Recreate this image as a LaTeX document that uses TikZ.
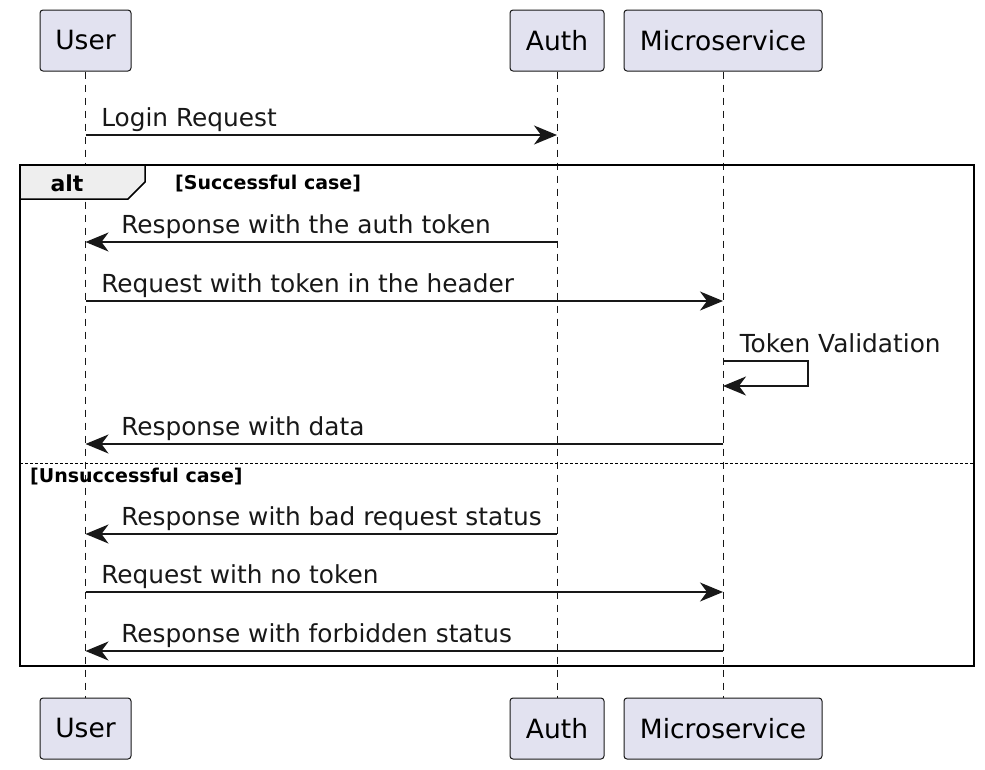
\documentclass[tikz,border=0pt]{standalone}
\usepackage{fontspec}
\setmainfont{DejaVu Sans}
\usepackage{xcolor}
\usetikzlibrary{arrows.meta, positioning, calc}
\definecolor{partfill}{HTML}{E2E2F0}
\definecolor{partline}{HTML}{181818}
\definecolor{tabfill}{HTML}{EEEEEE}

\begin{document}
\begin{tikzpicture}[x=1pt, y=-1pt,
    part/.style={draw=partline, fill=partfill, rounded corners=3pt, line width=1pt,
      minimum height=61pt, inner sep=0pt, font=\fontsize{26.5}{30}\selectfont},
    life/.style={partline, line width=1pt, dash pattern=on 7pt off 6pt},
    msg/.style={-{Stealth[length=23pt, width=19pt, inset=7pt]}, line width=1.5pt, partline},
    lbl/.style={anchor=base west, inner sep=0pt, font=\fontsize{24.8}{28}\selectfont},
    grd/.style={anchor=base west, inner sep=0pt, font=\fontsize{19}{22}\selectfont\bfseries}]
  \useasboundingbox (0,0) rectangle (985,769);
  % participants
  \node[part, minimum width=91pt] (userT) at (85.5,40.5) {User};
  \node[part, minimum width=94pt] (authT) at (557,40.5) {Auth};
  \node[part, minimum width=198pt] (msT) at (723,40.5) {Microservice};
  \node[part, minimum width=91pt] (userB) at (85.5,728.5) {User};
  \node[part, minimum width=94pt] (authB) at (557,728.5) {Auth};
  \node[part, minimum width=198pt] (msB) at (723,728.5) {Microservice};
  \foreach \p in {user,auth,ms} \draw[life] (\p T) -- (\p B);
  % message rows
  \foreach \r/\y in {1/135, 2/242, 3/301, 4/361, 5/386, 6/444, 7/534, 8/592, 9/651}
    \coordinate (r\r) at (0,\y);
  % alt frame
  \coordinate (fTL) at (20,165);
  \coordinate (fBR) at (974,666);
  \draw[fill=tabfill, line width=1.5pt] (fTL) -- (145,165) -- (145,182) -- (128,199) -- (20,199) -- cycle;
  \draw[line width=2.5pt] (fTL) rectangle (fBR);
  \node[anchor=base, inner sep=0pt, font=\fontsize{22}{24}\selectfont\bfseries] (altL) at (67,191) {alt};
  \node[grd] (g1) at (175,189) {[Successful case]};
  \draw[line width=1pt, dash pattern=on 3pt off 2pt] (20,463) coordinate (sepL) -- (974,463) coordinate (sepR);
  \node[grd] (g2) at (30,482) {[Unsuccessful case]};
  % messages
  \draw[msg] (userT |- r1) -- node[lbl, pos=0, xshift=15pt, yshift=9pt] {Login Request} (authT |- r1);
  \draw[msg] (authT |- r2) -- (userT |- r2) node[lbl, xshift=35pt, yshift=9pt] {Response with the auth token};
  \draw[msg] (userT |- r3) -- node[lbl, pos=0, xshift=15pt, yshift=9pt] {Request with token in the header} (msT |- r3);
  \draw[msg] (msT |- r4) -- ++(85,0) |- node[lbl, pos=1, xshift=16pt, yshift=34pt] {Token Validation} (msT |- r5);
  \draw[msg] (msT |- r6) -- (userT |- r6) node[lbl, xshift=35pt, yshift=9pt] {Response with data};
  \draw[msg] (authT |- r7) -- (userT |- r7) node[lbl, xshift=35pt, yshift=9pt] {Response with bad request status};
  \draw[msg] (userT |- r8) -- node[lbl, pos=0, xshift=15pt, yshift=9pt] {Request with no token} (msT |- r8);
  \draw[msg] (msT |- r9) -- (userT |- r9) node[lbl, xshift=35pt, yshift=9pt] {Response with forbidden status};
\end{tikzpicture}
\end{document}
